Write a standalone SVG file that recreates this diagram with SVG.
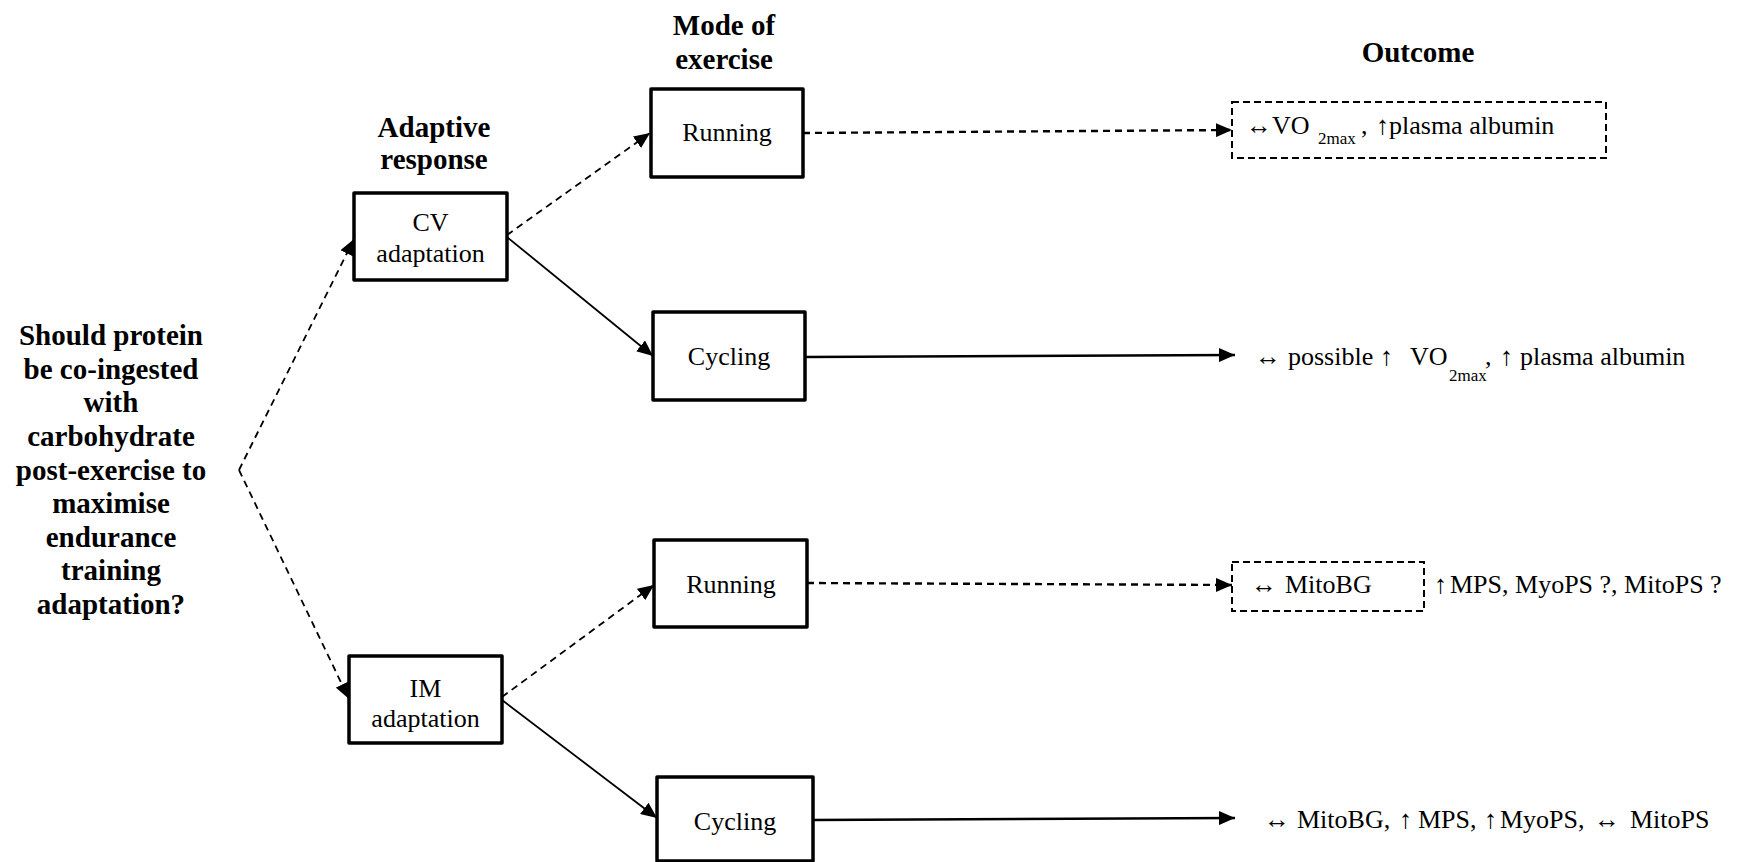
<svg xmlns="http://www.w3.org/2000/svg" width="1742" height="862" viewBox="0 0 1742 862">
<defs>
<style>
.bg{fill:#fff}
.box{fill:#fff;stroke:#000;stroke-width:3.5;stroke-linejoin:round}
.obox{fill:none;stroke:#000;stroke-width:2;stroke-dasharray:7 4}
.c{fill:none;stroke:#000;stroke-width:1.8}
.d{stroke-dasharray:7 5}
.h{stroke-width:2.4}
text{font-family:'Liberation Serif','Times New Roman',Times,'DejaVu Serif',serif;fill:#000}
.t{font-size:26px}
.b{font-size:29px;font-weight:bold;text-anchor:middle}
.m{text-anchor:middle}
.s{font-size:17px}
</style>
<marker id="ah" markerUnits="userSpaceOnUse" markerWidth="17" markerHeight="14" refX="16" refY="7" orient="auto">
<path d="M0,0 L16,7 L0,14 z" fill="#000"/>
</marker>
</defs>
<rect class="bg" x="0" y="0" width="1742" height="862"/>

<g id="connectors">
<path class="c d" d="M239,470 L354,239" marker-end="url(#ah)"/>
<path class="c d" d="M239,470 L349,699" marker-end="url(#ah)"/>
<path class="c d" d="M507,235 L650,133" marker-end="url(#ah)"/>
<path class="c" d="M507,237 L653,356" marker-end="url(#ah)"/>
<path class="c d" d="M502,697 L654,585" marker-end="url(#ah)"/>
<path class="c" d="M502,700 L657,818" marker-end="url(#ah)"/>
<path class="c d h" d="M803,133 L1232,130" marker-end="url(#ah)"/>
<path class="c h" d="M805,357 L1235,355" marker-end="url(#ah)"/>
<path class="c d h" d="M807,583 L1232,585" marker-end="url(#ah)"/>
<path class="c h" d="M813,820 L1235,818" marker-end="url(#ah)"/>
</g>

<g id="headings">
<text class="b" x="724" y="35">Mode of</text>
<text class="b" x="724" y="69">exercise</text>
<text class="b" x="434" y="137">Adaptive</text>
<text class="b" x="434" y="169">response</text>
<text class="b" x="1418" y="62">Outcome</text>
</g>

<g id="question">
<text class="b" x="111" y="345">Should protein</text>
<text class="b" x="111" y="379">be co-ingested</text>
<text class="b" x="111" y="412">with</text>
<text class="b" x="111" y="446">carbohydrate</text>
<text class="b" x="111" y="480">post-exercise to</text>
<text class="b" x="111" y="513">maximise</text>
<text class="b" x="111" y="547">endurance</text>
<text class="b" x="111" y="580">training</text>
<text class="b" x="111" y="614">adaptation?</text>
</g>

<g id="cv">
<rect class="box" x="354" y="193" width="153" height="87"/>
<text class="t m" x="430.5" y="231">CV</text>
<text class="t m" x="430.5" y="262">adaptation</text>
</g>

<g id="im">
<rect class="box" x="349" y="656" width="153" height="87"/>
<text class="t m" x="425.5" y="697">IM</text>
<text class="t m" x="425.5" y="727">adaptation</text>
</g>

<g id="running1">
<rect class="box" x="651" y="89" width="152" height="88"/>
<text class="t m" x="727" y="141">Running</text>
</g>

<g id="cycling1">
<rect class="box" x="653" y="312" width="152" height="88"/>
<text class="t m" x="729" y="365">Cycling</text>
</g>

<g id="running2">
<rect class="box" x="654" y="540" width="153" height="87"/>
<text class="t m" x="731" y="593">Running</text>
</g>

<g id="cycling2">
<rect class="box" x="657" y="777" width="156" height="84"/>
<text class="t m" x="735" y="830">Cycling</text>
</g>

<g id="outcome1">
<rect class="obox" x="1232" y="102" width="374" height="56"/>
<text class="t" y="134"><tspan x="1246">↔</tspan><tspan x="1272">VO</tspan><tspan class="s" x="1318" dy="10">2max</tspan><tspan x="1361" dy="-10">,</tspan><tspan x="1376">↑</tspan><tspan x="1389">plasma albumin</tspan></text>
</g>

<g id="outcome2">
<text class="t" y="365"><tspan x="1255">↔</tspan><tspan x="1288">possible</tspan><tspan x="1380">↑</tspan><tspan x="1410">VO</tspan><tspan class="s" x="1449" dy="16">2max</tspan><tspan x="1485" dy="-16">,</tspan><tspan x="1500">↑</tspan><tspan x="1520">plasma albumin</tspan></text>
</g>

<g id="outcome3">
<rect class="obox" x="1232" y="562" width="192" height="49"/>
<text class="t" y="593"><tspan x="1251">↔</tspan><tspan x="1285">MitoBG</tspan></text>
<text class="t" y="593"><tspan x="1434">↑</tspan><tspan x="1450">MPS, MyoPS ?, MitoPS ?</tspan></text>
</g>

<g id="outcome4">
<text class="t" y="828"><tspan x="1264">↔</tspan><tspan x="1297">MitoBG,</tspan><tspan x="1399">↑</tspan><tspan x="1418">MPS,</tspan><tspan x="1484">↑</tspan><tspan x="1500">MyoPS,</tspan><tspan x="1594">↔</tspan><tspan x="1630">MitoPS</tspan></text>
</g>
</svg>
